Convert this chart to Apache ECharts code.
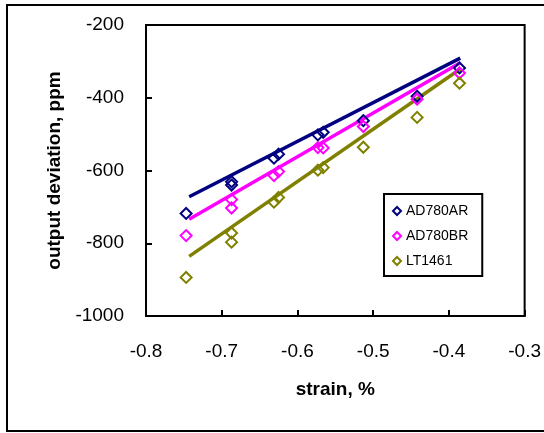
<!DOCTYPE html>
<html lang="en">
<head>
    <meta charset="UTF-8">
    <title></title>
    <script type="text/javascript" src="https://cdn.jsdelivr.net/npm/echarts@6/dist/echarts.min.js"></script>
</head>
<body style="margin:0">
<div id="chart" style="width: 544px;height: 433px"></div>
</body>
</html>
<script type="text/javascript">
    // measured points (strain shared across the three parts)
    var strain = [-0.747, -0.687, -0.687, -0.631, -0.625, -0.573, -0.566, -0.513, -0.442, -0.386];
    var ad780ar = [-718, -631, -640, -566, -555, -502, -495, -463, -396, -318];
    var ad780br = [-779, -680, -703, -614, -603, -537, -538, -479, -404, -332];
    var lt1461 = [-894, -772, -797, -687, -674, -599, -592, -536, -454, -360];

    // trend line end points as drawn
    var fitStrain = [-0.743, -0.385];
    var fitAR = [-672, -291];
    var fitBR = [-734, -304];
    var fitLT = [-836, -321];

    var names = ['AD780AR', 'AD780BR', 'LT1461'];
    var colors = ['#000080', '#ff00ff', '#808000'];
    var values = [ad780ar, ad780br, lt1461];
    var fits = [fitAR, fitBR, fitLT];

    function pairs(xs, ys) {
        var out = [];
        for (var i = 0; i < xs.length; i++) out.push([xs[i], ys[i]]);
        return out;
    }

    var font = 'Liberation Sans, Arial, sans-serif';
    var series = [];
    for (var k = 0; k < 3; k++) {
        series.push({
            name: names[k] + ' fit',
            type: 'line',
            data: pairs(fitStrain, fits[k]),
            symbol: 'none',
            lineStyle: {color: colors[k], width: 3.5},
            z: 2
        });
    }
    for (var k = 0; k < 3; k++) {
        series.push({
            name: names[k],
            type: 'scatter',
            data: pairs(strain, values[k]),
            symbol: 'diamond',
            symbolSize: 11,
            itemStyle: {color: 'rgba(0,0,0,0)', borderColor: colors[k], borderWidth: 2, opacity: 1},
            z: 3
        });
    }

    var myChart = echarts.init(document.getElementById('chart'));
    var option = {
        animation: false,
        backgroundColor: '#fff',
        textStyle: {fontFamily: font},
        graphic: [{
            type: 'rect',
            shape: {x: 7, y: 5, width: 620, height: 426},
            style: {fill: 'none', stroke: '#000', lineWidth: 2},
            silent: true
        }],
        grid: {
            left: 146, right: 18, top: 25, bottom: 117,
            show: true, borderColor: '#000', borderWidth: 2
        },
        legend: {
            data: names.map(function (n, i) {
                return {name: n, icon: 'diamond', itemStyle: {color: '#fff', borderColor: colors[i], borderWidth: 2}};
            }),
            orient: 'vertical',
            left: 384, top: 194,
            itemWidth: 8, itemHeight: 8, itemGap: 11,
            padding: [10, 14, 8, 8],
            borderColor: '#000', borderWidth: 2,
            backgroundColor: '#fff',
            textStyle: {fontSize: 14, color: '#000', fontFamily: font}
        },
        xAxis: {
            type: 'value',
            min: -0.8, max: -0.3, interval: 0.1,
            name: 'strain, %',
            nameLocation: 'middle',
            nameGap: 64,
            nameTextStyle: {fontSize: 19, fontWeight: 'bold', color: '#000', fontFamily: font},
            axisLine: {lineStyle: {color: '#000', width: 2}},
            axisTick: {inside: true, length: 6, lineStyle: {color: '#000', width: 2}},
            axisLabel: {
                fontSize: 19, color: '#000', margin: 26, fontFamily: font,
                formatter: function (v) { return v.toFixed(1); }
            },
            splitLine: {show: false}
        },
        yAxis: {
            type: 'value',
            min: -1000, max: -200, interval: 200,
            name: 'output deviation, ppm',
            nameLocation: 'middle',
            nameGap: 81,
            nameTextStyle: {fontSize: 19, fontWeight: 'bold', color: '#000', fontFamily: font},
            axisLine: {lineStyle: {color: '#000', width: 2}},
            axisTick: {inside: true, length: 6, lineStyle: {color: '#000', width: 2}},
            axisLabel: {
                fontSize: 19, color: '#000', margin: 22, fontFamily: font,
                formatter: function (v) { return String(v); }
            },
            splitLine: {show: false}
        },
        series: series
    };
    myChart.setOption(option);
</script>
